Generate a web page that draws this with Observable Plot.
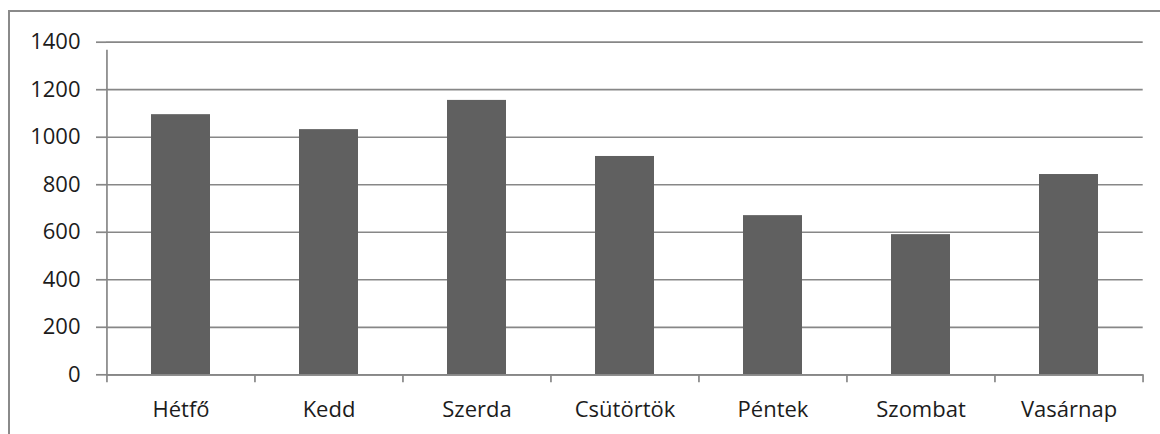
<!DOCTYPE html>
<html>
<head>
<meta charset="utf-8">
<script src="https://cdn.jsdelivr.net/npm/d3@7"></script>
<script src="https://cdn.jsdelivr.net/npm/@observablehq/plot@0.6"></script>
<style>
  html, body { margin: 0; padding: 0; background: #fff; }
  #wrap { position: relative; width: 1160px; height: 434px; overflow: hidden; }
  #frame { position: absolute; left: 8px; top: 10px; width: 1200px; height: 500px;
           border-left: 2.5px solid #8a8a8a; border-top: 2.5px solid #8a8a8a; box-sizing: border-box; pointer-events: none; }
</style>
</head>
<body>
<div id="wrap"><div id="frame"></div></div>
<script>
const days = ["Hétfő", "Kedd", "Szerda", "Csütörtök", "Péntek", "Szombat", "Vasárnap"];
const values = [1095, 1032, 1155, 919, 670, 590, 843];
const yTicks = [0, 200, 400, 600, 800, 1000, 1200, 1400];

const data = days.map((d, i) => ({day: d, value: values[i]}));

const W = 1160, H = 434;
const mL = 106, mR = 17.3, mT = 41.7, mB = 59.7;
const step = (W - mL - mR) / days.length;
const gray = "#878787";

const chart = Plot.plot({
  width: W,
  height: H,
  marginLeft: mL,
  marginRight: mR,
  marginTop: mT,
  marginBottom: mB,
  style: {fontFamily: "'Open Sans', sans-serif", fontSize: "22px", color: "#1c1c1c", background: "transparent"},
  x: {domain: days, paddingInner: 0.6, paddingOuter: 0.3, label: null},
  y: {domain: [0, 1400], label: null},
  marks: [
    Plot.gridY(yTicks, {stroke: gray, strokeOpacity: 1, strokeWidth: 1.7}),
    Plot.axisY({ticks: yTicks, tickFormat: d3.format("d"), tickSize: 10, tickPadding: 16, stroke: gray, strokeWidth: 1.7, label: null, fill: "#1c1c1c"}),
    Plot.axisX({tickSize: 0, tickPadding: 27, label: null, fill: "#1c1c1c"}),
    Plot.barY(data, {x: "day", y: "value", fill: "#606060"}),
    Plot.ruleY([0], {stroke: gray, strokeWidth: 1.7}),
    Plot.ruleX([days[0]], {dx: -step / 2, y1: 0, y2: 1400, insetBottom: -8, stroke: gray, strokeWidth: 1.7}),
    Plot.ruleX(days, {dx: -step / 2, y1: 0, y2: 0, insetBottom: -8, stroke: gray, strokeWidth: 1.7}),
    Plot.ruleX([days[days.length - 1]], {dx: step / 2, y1: 0, y2: 0, insetBottom: -8, stroke: gray, strokeWidth: 1.7})
  ]
});
document.getElementById("wrap").prepend(chart);
</script>
</body>
</html>
